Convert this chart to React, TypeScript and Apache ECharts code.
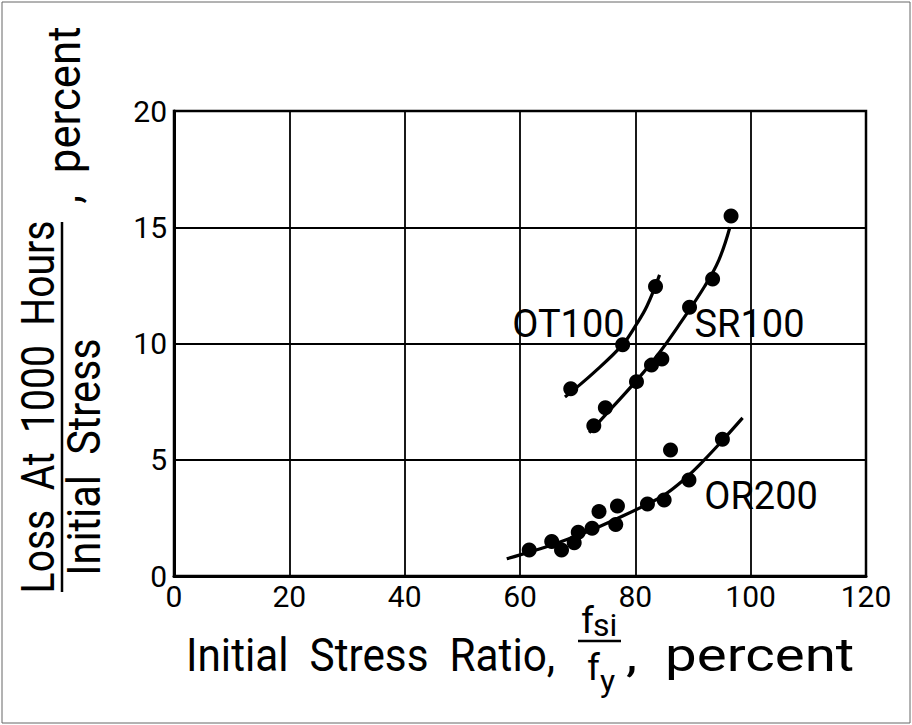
import React, { useEffect, useRef } from "react";
import * as echarts from "echarts";

// Axis ranges
const X_MIN = 0;
const X_MAX = 120;
const X_STEP = 20;
const Y_MIN = 0;
const Y_MAX = 20;
const Y_STEP = 5;

// Measured points (initial stress ratio %, loss / initial stress %)
const ot100Points: [number, number][] = [
  [68.8, 8.05],
  [77.8, 9.95],
  [83.5, 12.45],
];
const sr100Points: [number, number][] = [
  [72.8, 6.46],
  [74.8, 7.24],
  [80.2, 8.36],
  [82.8, 9.07],
  [84.6, 9.33],
  [89.4, 11.56],
  [93.4, 12.77],
  [96.6, 15.48],
];
const or200Points: [number, number][] = [
  [61.6, 1.12],
  [65.5, 1.48],
  [67.2, 1.12],
  [69.4, 1.43],
  [70.1, 1.88],
  [72.5, 2.05],
  [73.7, 2.77],
  [76.6, 2.22],
  [76.9, 3.01],
  [82.1, 3.1],
  [85.0, 3.27],
  [86.1, 5.42],
  [89.3, 4.13],
  [95.1, 5.88],
];

// Fitted curves
const ot100Curve: [number, number][] = [
  [67.8, 7.7],
  [72.8, 8.75],
  [77.8, 9.95],
  [80, 10.75],
  [82, 11.6],
  [84.2, 12.95],
];
const sr100Curve: [number, number][] = [
  [72, 6.16],
  [76, 7.25],
  [80, 8.35],
  [84, 9.55],
  [88, 10.95],
  [92, 12.45],
  [94.5, 13.6],
  [96.4, 15.0],
];
const or200Curve: [number, number][] = [
  [57.7, 0.74],
  [62, 1.06],
  [66, 1.38],
  [70, 1.74],
  [74, 2.15],
  [78, 2.6],
  [82, 3.08],
  [85, 3.48],
  [88, 4.05],
  [91, 4.75],
  [95, 5.8],
  [98.6, 6.8],
];

// Curve labels (placed in data coordinates)
const curveLabels = [
  { name: "OT100", value: [68.4, 10.86] },
  { name: "SR100", value: [99.8, 10.86] },
  { name: "OR200", value: [101.8, 3.46] },
];

const FONT = "Roboto, 'DejaVu Sans', sans-serif";

export default function App() {
  const ref = useRef<HTMLDivElement>(null);

  useEffect(() => {
    if (!ref.current) return;
    const chart = echarts.init(ref.current, undefined, { renderer: "svg" });

    const curveSeries = (data: [number, number][]) => ({
      type: "line",
      data,
      smooth: 0.4,
      showSymbol: false,
      symbol: "none",
      lineStyle: { color: "#000", width: 3.2 },
      z: 3,
    });
    const pointSeries = (data: [number, number][]) => ({
      type: "scatter",
      data,
      symbol: "circle",
      symbolSize: 15,
      itemStyle: { color: "#000", opacity: 1 },
      z: 4,
    });

    const txt = (
      text: string,
      x: number,
      y: number,
      fontSize: number,
      opts: any = {}
    ) => ({
      type: "text",
      x,
      y,
      rotation: opts.rotation || 0,
      scaleX: opts.scaleX || 1,
      scaleY: opts.scaleY || 1,
      z: 10,
      style: {
        text,
        fontSize,
        fontFamily: FONT,
        fill: "#000",
        textAlign: opts.align || "left",
        textVerticalAlign: "middle",
        lineHeight: opts.lineHeight || undefined,
      },
    });

    chart.setOption({
      animation: false,
      backgroundColor: "#fff",
      grid: {
        left: 174,
        top: 111,
        width: 692,
        height: 465,
        show: true,
        borderColor: "#000",
        borderWidth: 2.5,
        backgroundColor: "transparent",
      },
      xAxis: {
        type: "value",
        min: X_MIN,
        max: X_MAX,
        interval: X_STEP,
        axisLine: { show: true, onZero: false, lineStyle: { color: "#000", width: 3 } },
        axisTick: { show: false },
        splitLine: { show: true, lineStyle: { color: "#000", width: 1.8 } },
        axisLabel: {
          color: "#000",
          fontSize: 30,
          fontFamily: FONT,
          margin: 5,
        },
      },
      yAxis: {
        type: "value",
        min: Y_MIN,
        max: Y_MAX,
        interval: Y_STEP,
        axisLine: { show: true, onZero: false, lineStyle: { color: "#000", width: 3 } },
        axisTick: { show: false },
        splitLine: { show: true, lineStyle: { color: "#000", width: 1.8 } },
        axisLabel: {
          color: "#000",
          fontSize: 30,
          fontFamily: FONT,
          margin: 7,
        },
      },
      series: [
        curveSeries(ot100Curve),
        curveSeries(sr100Curve),
        curveSeries(or200Curve),
        pointSeries(ot100Points),
        pointSeries(sr100Points),
        pointSeries(or200Points),
        {
          type: "scatter",
          data: curveLabels,
          symbolSize: 0,
          silent: true,
          z: 5,
          itemStyle: { opacity: 1 },
          label: {
            show: true,
            position: "inside",
            formatter: (p: any) => p.name,
            color: "#000",
            opacity: 1,
            fontSize: 38,
            fontFamily: FONT,
          },
        },
      ],
      graphic: {
        elements: [
          // page frame
          {
            type: "rect",
            shape: { x: 2, y: 2, width: 908, height: 721 },
            style: { fill: "none", stroke: "#666", lineWidth: 1 },
            z: 1,
          },
          // X axis title
          txt("Initial  Stress  Ratio,", 186, 655, 47, { scaleX: 0.9 }),
          txt("f", 581, 620, 37, { lineHeight: 28 }),
          txt("si", 593, 625, 32, { lineHeight: 24 }),
          {
            type: "line",
            shape: { x1: 578, y1: 641, x2: 621, y2: 641 },
            style: { stroke: "#000", lineWidth: 2.5 },
            z: 10,
          },
          txt("f", 587, 667, 37, { lineHeight: 28 }),
          txt("y", 600, 681, 32, { lineHeight: 24 }),
          txt(",  percent", 626, 655, 47, { scaleX: 1.2 }),
          // Y axis title (rotated)
          txt("Loss  At  1000  Hours", 38, 407, 46, {
            rotation: Math.PI / 2,
            align: "center",
            scaleX: 0.85,
          }),
          {
            type: "line",
            shape: { x1: 62, y1: 222, x2: 62, y2: 592 },
            style: { stroke: "#000", lineWidth: 2.5 },
            z: 10,
          },
          txt("Initial  Stress", 84, 457, 46, {
            rotation: Math.PI / 2,
            align: "center",
            scaleX: 0.9,
          }),
          txt(",  percent", 64, 115, 46, {
            rotation: Math.PI / 2,
            align: "center",
            scaleX: 0.95,
          }),
        ],
      },
    });

    return () => chart.dispose();
  }, []);

  return (
    <div
      ref={ref}
      style={{ position: "fixed", left: 0, top: 0, width: 912, height: 725 }}
    />
  );
}
